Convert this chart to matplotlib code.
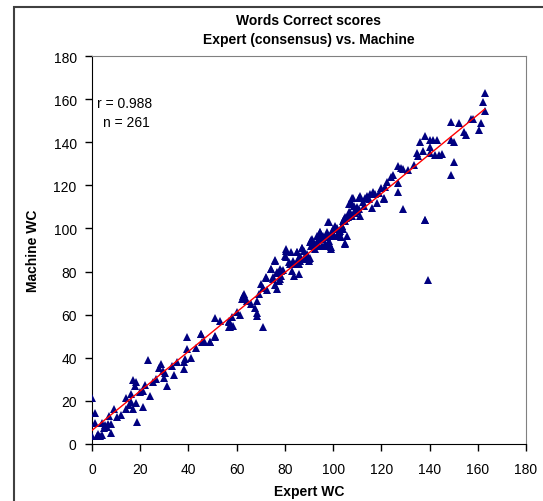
import numpy as np
import matplotlib
matplotlib.use('Agg')
import matplotlib.pyplot as plt
from matplotlib.patches import Rectangle

plt.rcParams['font.family'] = ['Liberation Sans', 'DejaVu Sans']

# Expert (consensus) words-correct scores vs. machine scores
expert_wc = [
    0.0, 1.1, 1.1, 0.0, 1.9, 3.3, 4.0, 4.1, 5.0, 6.1, 5.5, 7.2, 8.0, 8.0, 9.1,
    14.1, 16.0, 15.2, 17.1, 18.3, 18.0, 14.1, 17.1, 16.0, 18.3, 18.8, 21.0,
    19.9, 22.1, 21.3, 24.1, 25.2, 23.2, 27.9, 28.7, 29.3, 30.4, 31.2, 29.9,
    34.0, 35.1, 38.2, 38.7, 38.2, 39.3, 39.3, 40.9, 45.1, 46.5, 45.6, 48.9,
    51.1, 51.1, 53.1, 56.9, 56.7,
    45.3, 46.2, 48.9, 51.1, 57.2, 58.1, 58.3, 56.9, 61.4, 71.0,
    62.8, 63.6, 62.2, 64.2, 63.0, 67.5, 68.3, 68.6, 68.3,
    70.0, 69.1, 71.0, 72.5, 72.2, 74.1, 76.0, 74.9, 76.9, 77.4, 78.0, 76.0,
    76.9, 78.5, 78.3, 80.5, 80.5, 81.8, 83.0, 83.8, 85.7, 86.0, 84.9, 87.1,
    86.3, 87.9, 89.0, 89.9, 90.4,
    90.4, 91.2, 91.8, 92.6, 93.2, 94.0, 94.6, 95.4, 95.9, 96.8, 97.3, 98.2,
    98.7, 99.3, 99.5, 100.4, 101.5, 102.3, 102.9, 103.7, 104.5, 105.1, 105.6,
    106.2, 106.5, 106.5, 97.9, 104.8,
    94.6, 95.9, 97.3, 98.2, 100.1, 100.9, 101.5, 102.3, 103.7, 104.3, 105.1,
    107.0, 107.8, 107.3, 108.1, 109.8, 109.2, 110.6, 111.2, 111.2, 112.3,
    113.1, 112.8, 113.9, 115.3, 114.8, 116.1, 116.6, 117.5, 118.3, 120.0,
    121.1, 121.4, 122.2, 124.1, 124.9, 126.9, 126.9, 126.9, 128.0, 129.1,
    129.1, 133.6, 138.0,
    135.2, 134.9, 136.0, 137.2, 138.3, 140.2, 140.2, 141.6, 142.9, 140.2,
    142.4, 143.8, 145.2, 148.8, 149.0, 150.1, 150.1, 149.0, 152.1, 154.3,
    155.1, 157.3, 158.2, 160.4, 161.2, 162.3, 162.9, 162.9,
    121.1, 138.3, 139.4,
    76.0, 74.1, 72.2, 75.2, 76.6, 78.0, 79.3, 80.5, 80.2, 82.7, 84.9, 87.1,
    82.1, 83.2, 84.3, 85.4, 86.3, 88.5, 89.3, 89.9, 91.0, 90.7, 91.8, 92.6,
    93.4, 94.6, 94.3, 95.4, 96.5, 97.3, 98.4, 99.3, 98.7, 100.4, 101.5,
    102.3, 103.4, 104.3, 105.1, 105.3, 106.5, 107.3, 107.8, 109.0, 109.8,
    110.9, 108.7,
    2.5, 6.5, 10.5, 12.0, 26.5, 33.0, 43.0, 60.0, 66.0, 88.0, 119.0, 131.0,
]
machine_wc = [
    21.1, 14.1, 9.6, 3.7, 3.4, 3.4, 4.0, 9.6, 7.1, 7.6, 8.7, 13.0, 9.0, 5.0, 16.1,
    21.1, 23.1, 18.0, 29.6, 28.8, 26.7, 16.1, 16.1, 19.2, 18.9, 9.9, 16.9,
    23.9, 27.3, 24.5, 22.0, 28.8, 38.9, 35.0, 37.0, 33.9, 32.9, 27.0, 30.4,
    32.1, 38.1, 38.1, 39.4, 34.7, 49.7, 44.0, 40.0, 51.0, 47.7, 47.4, 47.1,
    49.7, 58.3, 57.0, 56.7, 54.1,
    51.0, 47.1, 47.1, 49.9, 54.2, 58.7, 54.5, 57.0, 60.0, 54.2,
    68.8, 67.6, 67.2, 66.3, 69.6, 63.1, 60.6, 66.3, 59.5,
    74.2, 69.6, 72.2, 71.6, 76.9, 81.0, 84.9, 76.5, 79.3, 75.6, 76.5, 73.7,
    71.9, 78.1, 80.4, 86.6, 89.7, 84.3, 80.3, 77.8, 78.7, 83.4, 88.9, 90.8,
    84.9, 86.4, 88.3, 85.8, 86.4,
    93.6, 95.1, 93.6, 92.0, 93.9, 95.4, 98.2, 92.0, 95.1, 92.7, 96.7, 94.2,
    92.0, 90.5, 98.2, 96.7, 99.8, 96.7, 98.8, 101.3, 104.4, 103.5, 96.7,
    105.2, 107.5, 111.5, 103.2, 93.3,
    96.7, 96.7, 98.2, 102.9, 99.8, 101.3, 96.7, 98.2, 101.3, 103.6, 105.2,
    107.5, 106.0, 112.2, 114.3, 109.9, 108.5, 109.1, 115.0, 106.0, 112.2,
    114.3, 110.6, 115.2, 116.0, 113.7, 109.7, 116.8, 116.0, 111.8, 118.7,
    114.0, 119.1, 121.5, 123.8, 124.9, 116.8, 121.1, 129.2, 128.0, 127.6,
    109.1, 129.5, 103.8,
    133.8, 135.1, 140.1, 136.2, 143.1, 141.0, 137.7, 141.0, 141.0, 135.1,
    134.2, 134.2, 134.6, 149.6, 141.3, 140.1, 131.0, 125.0, 148.9, 144.7,
    143.4, 150.9, 150.9, 145.9, 148.9, 158.6, 154.6, 163.0,
    113.7, 103.8, 75.9,
    85.2, 81.2, 77.5, 77.5, 79.6, 81.2, 80.9, 90.5, 87.1, 88.9, 88.9, 91.1,
    83.4, 84.9, 83.4, 85.8, 87.4, 85.8, 86.8, 84.9, 94.8, 92.0, 93.9, 90.5,
    96.4, 98.5, 92.0, 95.1, 92.0, 96.0, 93.3, 91.4, 96.7, 97.0, 100.4,
    98.5, 96.0, 99.8, 92.7, 105.0, 106.6, 111.8, 114.3, 107.2, 108.1,
    114.3, 110.6,
    4.5, 9.0, 12.5, 13.5, 30.0, 36.0, 44.5, 61.0, 65.0, 89.5, 116.5, 127.0,
]
r_text = 'r = 0.988'
n_text = 'n = 261'

fig = plt.figure(figsize=(5.43, 5.02), dpi=100)
ax = fig.add_axes([92/543, 57.3/502, 434/543, 387.4/502])

ax.plot(expert_wc, machine_wc, linestyle='none', marker='^', ms=5.3,
        color='#000080', markeredgewidth=0, zorder=3)

# linear trendline through the points
slope, icept = np.polyfit(expert_wc, machine_wc, 1)
xs = np.array([min(expert_wc), max(expert_wc)])
ax.plot(xs, icept + slope * xs, color='red', lw=1, zorder=4)

ax.set_xlim(0, 180)
ax.set_ylim(0, 180)
ax.set_xticks(np.arange(0, 181, 20))
ax.set_yticks(np.arange(0, 181, 20))
ax.tick_params(direction='out', length=5, width=1, labelsize=10, pad=6, color='black')
ax.tick_params(axis='x', pad=8)

for side in ['top', 'right']:
    ax.spines[side].set_color('#808080')
for side in ['left', 'bottom']:
    ax.spines[side].set_color('black')

ax.set_xlabel('Expert WC', fontsize=10, fontweight='bold', labelpad=6)
ax.set_ylabel('Machine WC', fontsize=10, fontweight='bold', labelpad=10)

fig.text(309/543, 1 - 21/502, 'Words Correct scores', ha='center', va='center',
         fontsize=10, fontweight='bold')
fig.text(309/543, 1 - 40/502, 'Expert (consensus) vs. Machine', ha='center', va='center',
         fontsize=10, fontweight='bold')

ax.text(0.012, 0.88, r_text, transform=ax.transAxes, fontsize=10, va='center')
ax.text(0.026, 0.83, n_text, transform=ax.transAxes, fontsize=10, va='center')

# outer chart-area border
fig.patches.append(Rectangle((14/543, -0.2), 1.2, 1.2 - 7.5/502,
                             transform=fig.transFigure, fill=False,
                             edgecolor='#404040', lw=1.5))

fig.savefig('out.png', dpi=100)
